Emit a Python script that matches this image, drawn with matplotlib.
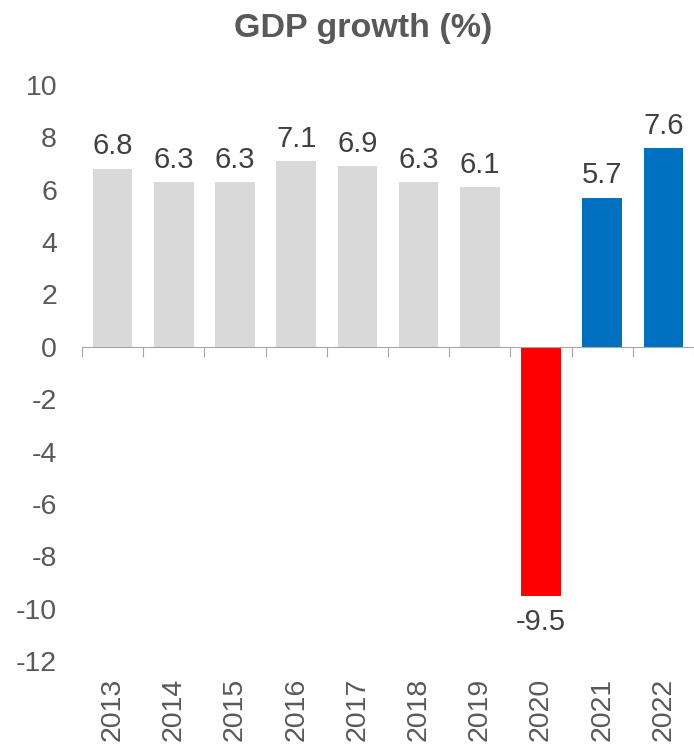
import matplotlib.pyplot as plt
import numpy as np

years = ['2013', '2014', '2015', '2016', '2017', '2018', '2019', '2020', '2021', '2022']
growth = [6.8, 6.3, 6.3, 7.1, 6.9, 6.3, 6.1, -9.5, 5.7, 7.6]
bar_colors = ['#d9d9d9'] * 7 + ['#ff0000', '#0070c0', '#0070c0']

plt.rcParams['font.family'] = ['Liberation Sans', 'DejaVu Sans']
plt.rcParams['axes.unicode_minus'] = False

fig = plt.figure(figsize=(6.94, 7.44), dpi=100)
ax = fig.add_axes([82 / 694, 1 - 661 / 744, 1 - 82 / 694, (661 - 85) / 744])

x = np.arange(len(years))
bars = ax.bar(x, growth, width=0.65, color=bar_colors, zorder=2)

for b, v in zip(bars, growth):
    off = 6 if v >= 0 else -9
    ax.annotate(f'{v:.1f}', (b.get_x() + b.get_width() / 2, v),
                xytext=(0, off), textcoords='offset points',
                ha='center', va='bottom' if v >= 0 else 'top',
                fontsize=21, color='#404040')

ax.set_xlim(-0.5, len(years) - 0.5)
ax.set_ylim(-12, 10)
ax.set_yticks(np.arange(-12, 11, 2))
ax.tick_params(axis='y', length=0, labelsize=20.5, labelcolor='#595959', pad=18)

# category axis line sits at zero, with ticks between the bars
for s in ['top', 'right', 'left']:
    ax.spines[s].set_visible(False)
ax.spines['bottom'].set_position(('data', 0))
ax.spines['bottom'].set_color('#a6a6a6')
ax.set_xticks(np.arange(len(years) + 1) - 0.5)
ax.set_xticklabels([])
ax.tick_params(axis='x', length=7, color='#a6a6a6', direction='out')

# year labels along the bottom
sec = ax.secondary_xaxis('bottom')
sec.set_xticks(x, labels=years, rotation=90)
sec.spines['bottom'].set_visible(False)
sec.tick_params(length=0, labelsize=20.5, labelcolor='#595959', pad=12)

fig.text(363 / 694, 1 - 28 / 744, 'GDP growth (%)', ha='center', va='center',
         fontsize=24.5, fontweight='bold', color='#595959')

fig.savefig('out.png', dpi=100)
